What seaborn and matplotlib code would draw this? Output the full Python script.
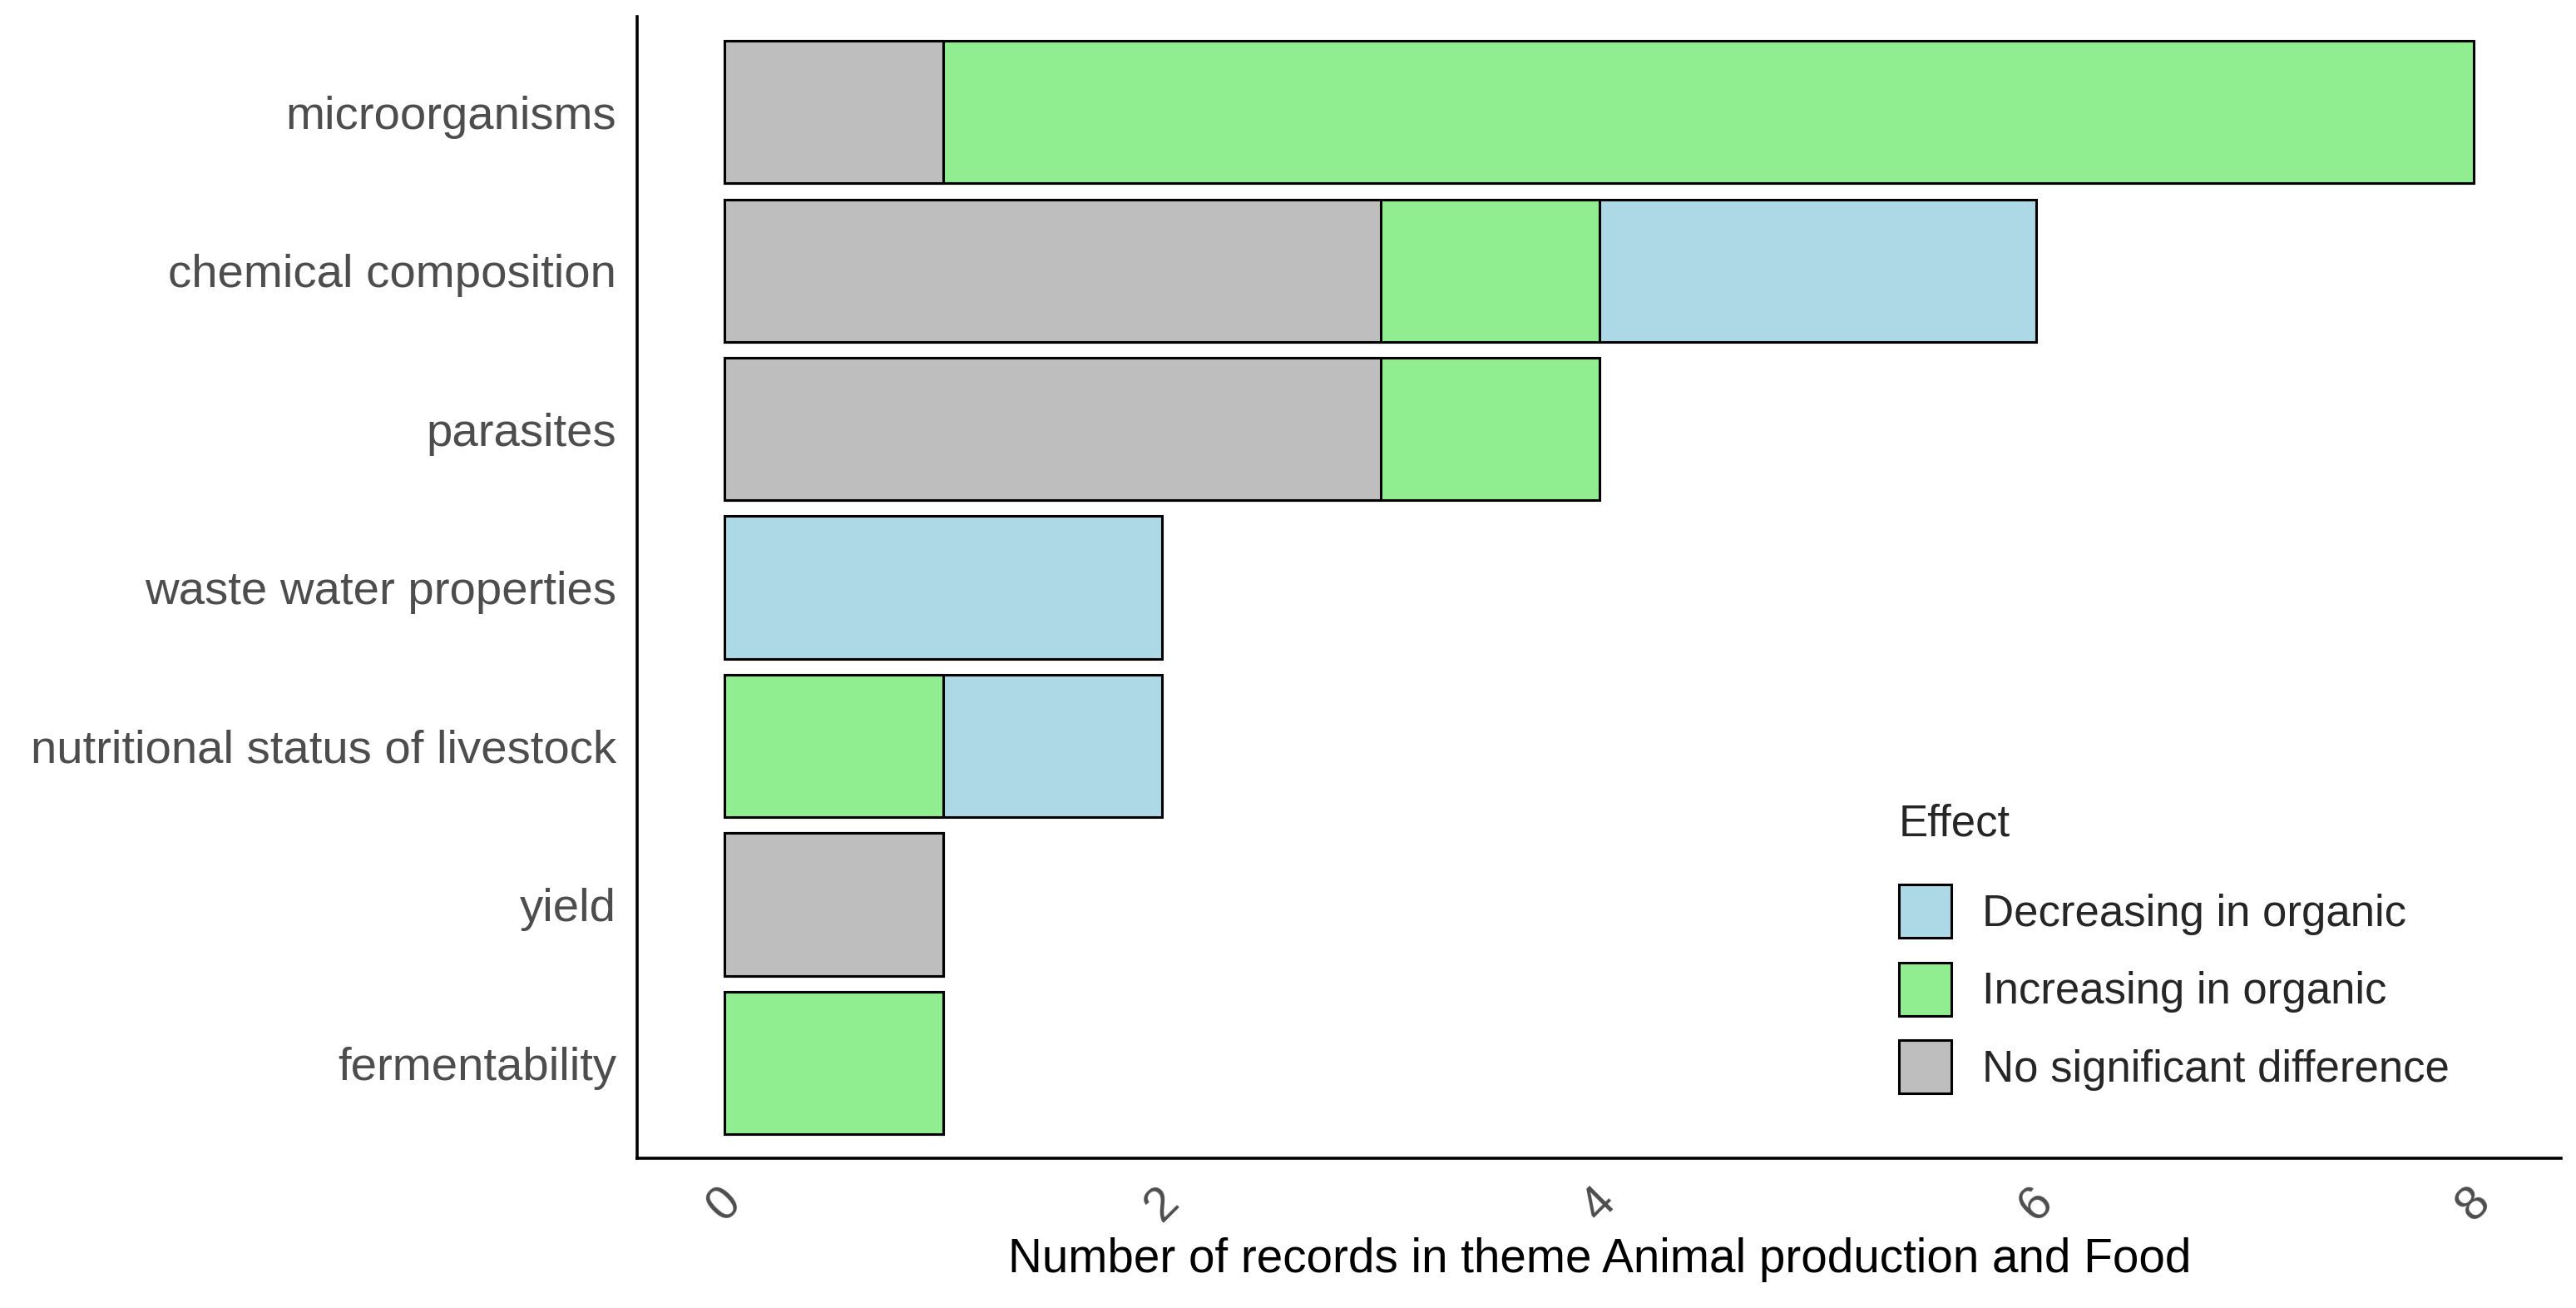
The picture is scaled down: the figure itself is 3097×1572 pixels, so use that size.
import matplotlib
matplotlib.use("Agg")
import matplotlib.pyplot as plt
from matplotlib.patches import Patch
import seaborn as sns
import pandas as pd

# data
categories = ["microorganisms", "chemical composition", "parasites",
              "waste water properties", "nutritional status of livestock",
              "yield", "fermentability"]
no_sig = [1, 3, 3, 0, 0, 1, 0]
increasing = [7, 1, 1, 0, 1, 0, 1]
decreasing = [0, 2, 0, 2, 1, 0, 0]

effects = ["Decreasing in organic", "Increasing in organic", "No significant difference"]
colors = {"Decreasing in organic": "#ADD8E6",
          "Increasing in organic": "#90EE90",
          "No significant difference": "#BEBEBE"}

df = pd.DataFrame({"category": categories, "no_sig": no_sig,
                   "increasing": increasing, "decreasing": decreasing})
# stacking order from left: no sig, increasing, decreasing
df["cum_nosig"] = df["no_sig"]
df["cum_inc"] = df["no_sig"] + df["increasing"]
df["cum_dec"] = df["cum_inc"] + df["decreasing"]

sns.set_style("white")
plt.rcParams["font.family"] = ["Liberation Sans", "DejaVu Sans"]

fig = plt.figure(figsize=(15.485, 7.86), dpi=200)
ax = fig.add_axes([0.2474, 0.1145, 0.7469, 0.8725])

# draw cumulative totals, biggest first, so the segments stack
for col, eff in [("cum_dec", effects[0]), ("cum_inc", effects[1]), ("cum_nosig", effects[2])]:
    sub = df[df[col] > 0]
    sns.barplot(data=sub, x=col, y="category", order=categories, orient="h",
                color=colors[eff], saturation=1, width=0.9,
                edgecolor="black", linewidth=1.1, ax=ax)

ax.set_xlim(-0.4, 8.4)
ax.set_ylim(6.6, -0.6)
ax.set_xticks([0, 2, 4, 6, 8])
ax.set_xticklabels(["0", "2", "4", "6", "8"], rotation=45, ha="center", va="top",
                   fontsize=21)
ax.set_xlabel("Number of records in theme Animal production and Food",
              fontsize=20.4, color="black", labelpad=3)
ax.set_ylabel("")
ax.tick_params(axis="y", labelsize=20.3)
ax.tick_params(axis="both", colors="#4D4D4D", length=5, width=1.1,
               direction="out", pad=4)
ax.tick_params(axis="both", color="#333333")
for s in ["top", "right"]:
    ax.spines[s].set_visible(False)
for s in ["left", "bottom"]:
    ax.spines[s].set_linewidth(1.3)
    ax.spines[s].set_color("black")
ax.grid(False)

handles = [Patch(facecolor=colors[e], edgecolor="black", linewidth=1.1, label=e) for e in effects]
leg = ax.legend(handles=handles, title="Effect", loc="lower left",
                bbox_to_anchor=(0.635, 0.022), frameon=False, fontsize=19,
                title_fontsize=19, handlelength=1.2, handleheight=1.5,
                handletextpad=0.7, labelspacing=0.55)
leg._legend_box.align = "left"
leg._legend_box.sep = 17  # more room under the title, like ggplot

fig.savefig("out.png", dpi=200, facecolor="white")
